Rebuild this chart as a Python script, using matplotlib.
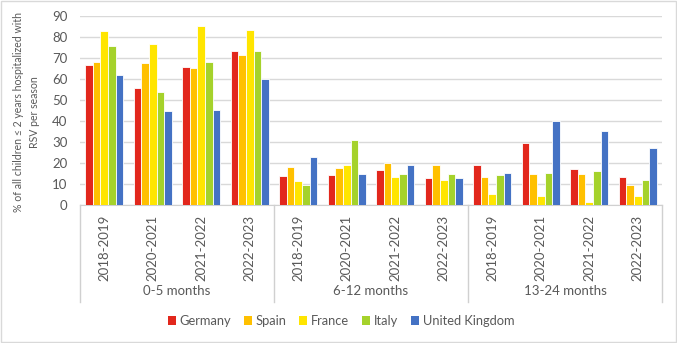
import matplotlib
matplotlib.use('Agg')
import matplotlib.pyplot as plt
import matplotlib.transforms as mtransforms
from matplotlib.patches import Rectangle, Patch

plt.rcParams['font.family'] = ['Lato', 'DejaVu Sans']

seasons = ['2018-2019', '2020-2021', '2021-2022', '2022-2023']
age_groups = ['0-5 months', '6-12 months', '13-24 months']
countries = ['Germany', 'Spain', 'France', 'Italy', 'United Kingdom']
colors = ['#E2271C', '#FFC000', '#FFE500', '#A5D22B', '#4472C4']

# values per country, 12 categories (3 age groups x 4 seasons)
germany = [66.5, 55.8, 65.4, 73.0, 13.7, 14.5, 16.8, 13.0, 19.2, 29.4, 17.3, 13.5]
spain = [68.0, 67.3, 64.9, 71.1, 18.3, 17.5, 19.9, 18.9, 13.2, 14.6, 14.6, 9.4]
france = [82.7, 76.5, 85.1, 83.3, 11.3, 18.8, 13.2, 11.9, 5.4, 4.3, 1.4, 4.3]
italy = [75.7, 53.7, 68.2, 73.1, 9.5, 30.7, 14.9, 14.6, 14.3, 15.3, 16.4, 11.7]
uk = [61.7, 44.7, 45.0, 59.7, 22.6, 14.8, 19.2, 12.7, 15.1, 40.1, 35.3, 27.2]
series = [germany, spain, france, italy, uk]

txt = '#595959'
fig = plt.figure(figsize=(6.77, 3.43), dpi=100)
ax = fig.add_axes([80 / 677, 0.4023, 582 / 677, 0.552])

n = len(seasons) * len(age_groups)
x = list(range(n))
w = 0.155
for i, (vals, c, name) in enumerate(zip(series, colors, countries)):
    ax.bar([xi + (i - 2) * w for xi in x], vals, width=w, color=c,
           edgecolor='white', linewidth=0.6, label=name, zorder=3)

ax.set_xlim(-0.5, n - 0.5)
ax.set_ylim(0, 90)
ax.set_yticks(range(0, 91, 10))
ax.tick_params(axis='y', length=0, pad=9, labelsize=9.5, labelcolor=txt)
ax.set_xticks([])
ax.grid(axis='y', color='#d9d9d9', linewidth=1, zorder=0)
for s in ['top', 'right', 'left']:
    ax.spines[s].set_visible(False)
ax.spines['bottom'].set_color('#d0d0d0')

trans = mtransforms.blended_transform_factory(ax.transData, ax.transAxes)
ph = 189.3
for xi in x:
    ax.text(xi, -10 / ph, seasons[xi % 4], rotation=90, ha='center', va='top',
            transform=trans, fontsize=9.5, color=txt)
for g, lab in enumerate(age_groups):
    ax.text(g * 4 + 1.5, -86 / ph, lab, ha='center', va='center',
            transform=trans, fontsize=9.5, color=txt)
for b in range(len(age_groups) + 1):
    ax.plot([b * 4 - 0.5, b * 4 - 0.5], [0, -97 / ph], color='#d0d0d0',
            linewidth=1, transform=trans, clip_on=False)

fig.text(19 / 677, 1 - 112 / 343, '% of all children \u2264 2 years hospitalized with',
         rotation=90, ha='center', va='center', fontsize=7.6, color=txt)
fig.text(35 / 677, 1 - 112 / 343, 'RSV per season',
         rotation=90, ha='center', va='center', fontsize=7.6, color=txt)

handles = [Patch(facecolor=c, label=n_) for c, n_ in zip(colors, countries)]
fig.legend(handles=handles, loc='center', bbox_to_anchor=(341 / 677, 1 - 321 / 343),
           ncol=5, frameon=False, fontsize=9.3, handlelength=0.6, handleheight=0.6,
           handletextpad=0.3, columnspacing=1.0, labelcolor=txt)

fig.patches.append(Rectangle((0.002, 0.003), 0.996, 0.994, transform=fig.transFigure,
                             fill=False, edgecolor='#d9d9d9', linewidth=1))

fig.savefig('out.png', dpi=100)
